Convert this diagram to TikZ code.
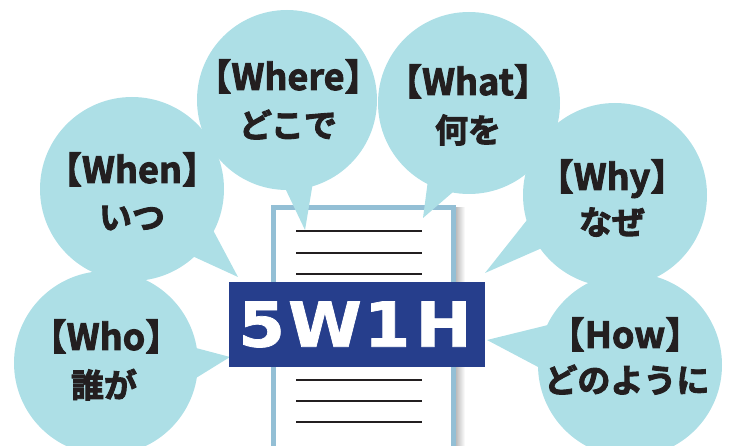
\documentclass[tikz,border=0pt]{standalone}
\usepackage{fontspec}
\newfontfamily\jpfont{Noto Sans CJK JP Bold}
\newfontfamily\titlefont[FakeStretch=1.08, FakeBold=1.2]{DejaVu Sans Bold}
\definecolor{bubblecol}{RGB}{173,223,230}
\definecolor{framecol}{RGB}{147,191,213}
\definecolor{boxcol}{RGB}{38,62,140}
\definecolor{inkcol}{RGB}{35,31,32}
\newcommand\heavytext[1]{\special{pdf:literal q 2 Tr 0.9 w 0.137 0.122 0.125 RG 0.137 0.122 0.125 rg}#1\special{pdf:literal Q}}
\tikzset{
  bubble/.style={circle, fill=bubblecol, inner sep=0pt, minimum size=184pt},
  tail/.style={fill=bubblecol},
  latinline/.style={anchor=base, inner sep=0pt, text=inkcol, font=\jpfont\fontsize{36}{40}\selectfont},
  kanaline/.style={anchor=base, inner sep=0pt, text=inkcol, font=\jpfont\fontsize{33}{38}\selectfont},
  docline/.style={draw=inkcol, line width=2.2pt},
}
\begin{document}
\begin{tikzpicture}[x=1pt,y=-1pt]
\useasboundingbox (0,0) rectangle (729,446);
% document
\shade[left color=black!35, right color=white] (453,208) rectangle (465,446);
\node[draw=framecol, line width=5pt, fill=white, inner sep=0pt, minimum width=180pt, minimum height=260pt, anchor=north west] (doc) at (270.5,205.5) {};
% text lines
\foreach \yy/\nm in {231/l1,253/l2,274/l3,380/l4,401/l5,422/l6}{
  \coordinate (\nm a) at (296,\yy);
  \coordinate (\nm b) at (422,\yy);
  \draw[docline] (\nm a) -- (\nm b);
}
% bubbles
\node[bubble] (when) at (132,189) {};
\node[bubble, minimum size=180pt] (where) at (287,100) {};
\node[bubble, minimum size=182pt] (what) at (469,103) {};
\node[bubble] (why) at (615,195) {};
\node[bubble] (who) at (106,363) {};
\node[bubble] (how) at (630,365) {};
% tails
\coordinate (whentip) at (238,277);
\coordinate (wheretip) at (305,230);
\coordinate (whattip) at (423,218);
\coordinate (whytip) at (485,273);
\coordinate (whotip) at (230,357);
\coordinate (howtip) at (487,340);
\fill[tail] (when.center) -- (213,230) -- (whentip) -- (190,255) -- cycle;
\fill[tail] (where.center) -- (285,188) -- (wheretip) -- (313,182) -- cycle;
\fill[tail] (what.center) -- (428,180) -- (whattip) -- (453,192) -- cycle;
\fill[tail] (why.center) -- (527,220) -- (whytip) -- (542,248) -- cycle;
\fill[tail] (who.center) -- (196,348) -- (whotip) -- (196,378) -- cycle;
\fill[tail] (how.center) -- (548,325) -- (howtip) -- (540,368) -- cycle;
% title box
\node[fill=boxcol, inner sep=0pt, minimum width=256pt, minimum height=85pt] (titlebox) at (357,324.5) {};
\node[inner sep=0pt, text=white, font=\titlefont\fontsize{62}{66}\selectfont] (title) at (355,324.5) {5\kern3pt W\kern2pt 1\kern5pt H};
% bubble texts
\node[latinline] (when1) at (132,183) {\heavytext{【When】}};
\node[kanaline] (when2) at (132,229.5) {\heavytext{いつ}};
\node[latinline] (where1) at (288,90) {\heavytext{【Where】}};
\node[kanaline] (where2) at (288,137.5) {\heavytext{どこで}};
\node[latinline] (what1) at (468,95) {\heavytext{【What】}};
\node[kanaline] (what2) at (468,142.5) {\heavytext{何を}};
\node[latinline] (why1) at (612,190) {\heavytext{【Why】}};
\node[kanaline] (why2) at (612,234.5) {\heavytext{なぜ}};
\node[latinline] (who1) at (106,350) {\heavytext{【Who】}};
\node[kanaline] (who2) at (104,397.5) {\heavytext{誰が}};
\node[latinline] (how1) at (625,348) {\heavytext{【How】}};
\node[kanaline] (how2) at (627,392.5) {\heavytext{どのように}};
\end{tikzpicture}
\end{document}
